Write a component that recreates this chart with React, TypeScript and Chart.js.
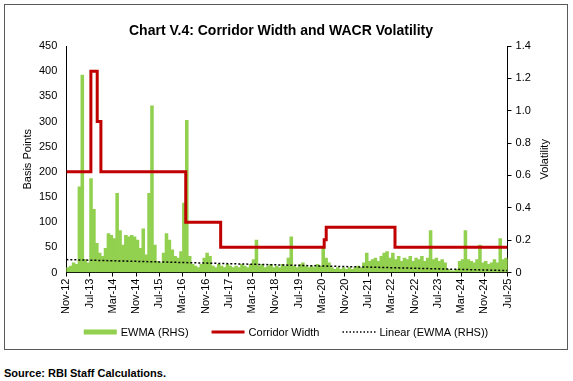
import React, { useEffect, useRef } from 'react';
import { Chart, registerables } from 'chart.js';

Chart.register(...registerables);

// ---- Data ----
const MONTH_NAMES = ['Jan', 'Feb', 'Mar', 'Apr', 'May', 'Jun', 'Jul', 'Aug', 'Sep', 'Oct', 'Nov', 'Dec'];
const START_YEAR = 2012;
const START_MONTH = 10; // November (0-based)
// Monthly categories Nov-12 .. Jul-25
const CATEGORIES: string[] = [];
for (let y = START_YEAR, m = START_MONTH; y < 2025 || (y === 2025 && m <= 6); m++) {
  if (m === 12) { m = 0; y++; }
  CATEGORIES.push(MONTH_NAMES[m] + '-' + String(y).slice(2));
}
const TICK_EVERY = 8; // Nov-12, Jul-13, Mar-14, ...

// WACR volatility (EWMA, monthly), right axis
const EWMA = [
  0.03, 0.04, 0.06, 0.05, 0.53, 1.22, 0.08, 0.06, 0.58, 0.39, 0.18, 0.12, // Nov-12..Oct-13
  0.10, 0.15, 0.24, 0.23, 0.21, 0.49, 0.26, 0.17, 0.23, 0.22, 0.23, 0.22, // Nov-13..Oct-14
  0.20, 0.15, 0.27, 0.11, 0.49, 1.03, 0.17, 0.07, 0.06, 0.12, 0.24, 0.20, // Nov-14..Oct-15
  0.14, 0.10, 0.09, 0.13, 0.43, 0.94, 0.10, 0.05, 0.04, 0.03, 0.05, 0.09, // Nov-15..Oct-16
  0.12, 0.10, 0.04, 0.03, 0.05, 0.04, 0.03, 0.05, 0.04, 0.03, 0.04, 0.03, // Nov-16..Oct-17
  0.05, 0.04, 0.03, 0.05, 0.08, 0.20, 0.04, 0.05, 0.03, 0.04, 0.05, 0.03, // Nov-17..Oct-18
  0.04, 0.03, 0.05, 0.04, 0.09, 0.22, 0.04, 0.03, 0.05, 0.06, 0.04, 0.03, // Nov-18..Oct-19
  0.04, 0.03, 0.05, 0.04, 0.16, 0.09, 0.06, 0.03, 0.02, 0.03, 0.02, 0.03, // Nov-19..Oct-20
  0.02, 0.03, 0.02, 0.03, 0.04, 0.03, 0.06, 0.12, 0.07, 0.08, 0.09, 0.07, // Nov-20..Oct-21
  0.10, 0.12, 0.13, 0.09, 0.12, 0.08, 0.10, 0.07, 0.09, 0.08, 0.10, 0.07, // Nov-21..Oct-22
  0.09, 0.08, 0.10, 0.07, 0.09, 0.26, 0.08, 0.09, 0.07, 0.08, 0.06, 0.02, // Nov-22..Oct-23
  0.01, 0.01, 0.02, 0.07, 0.08, 0.26, 0.08, 0.07, 0.06, 0.08, 0.17, 0.06, // Nov-23..Oct-24
  0.07, 0.05, 0.06, 0.08, 0.06, 0.21, 0.08, 0.09, 0.08,                   // Nov-24..Jul-25
];

// Corridor width (basis points), left axis: date of each change and new width
const CORRIDOR_DATES = [
  '2012-11-01', '2013-07-15', '2013-09-20', '2013-10-29', '2016-04-05',
  '2017-04-06', '2020-03-27', '2020-04-17', '2022-04-08', '2025-07-01',
];
const CORRIDOR_BPS = [200, 400, 300, 200, 100, 50, 65, 90, 50, 50];

// Linear trend of EWMA: value at first and last month
const TREND_START = 0.08;
const TREND_END = 0.012;

const LEFT_TICKS = { min: 0, max: 450, step: 50 };
const RIGHT_TICKS = { min: 0, max: 1.4, step: 0.2 };

const TITLE = 'Chart V.4: Corridor Width and WACR Volatility';
const LEFT_TITLE = 'Basis Points';
const RIGHT_TITLE = 'Volatility';
const FONT = 'Liberation Sans, Arial, sans-serif';
const GREEN = '#92D050';
const RED = '#C00000';

const LEGEND_ITEMS = [
  { text: 'EWMA (RHS)', kind: 'box', color: GREEN },
  { text: 'Corridor Width', kind: 'line', color: RED },
  { text: 'Linear (EWMA (RHS))', kind: 'dots', color: '#000' },
];

// months elapsed since 1 Nov 2012 (fractional)
function monthPos(date: string): number {
  const [y, m, d] = date.split('-').map(Number);
  const days = new Date(y, m, 0).getDate();
  return (y - START_YEAR) * 12 + (m - 1) - START_MONTH + (d - 1) / days;
}

const overlayPlugin = {
  id: 'overlay',
  afterDraw(chart: any) {
    const ctx = chart.ctx;
    const s = chart.scales.y1;
    const sl = chart.scales.y;
    ctx.save();
    // Chart title
    ctx.font = `bold 14px ${FONT}`;
    ctx.fillStyle = '#000';
    ctx.textAlign = 'center';
    ctx.textBaseline = 'middle';
    ctx.fillText(TITLE, chart.width / 2 - 5, 25);

    // Axis titles (both read bottom to top)
    ctx.font = `11px ${FONT}`;
    ctx.save();
    ctx.translate(s.right - 6 - 7, (s.top + s.bottom) / 2);
    ctx.rotate(-Math.PI / 2);
    ctx.fillText(RIGHT_TITLE, 0, 0);
    ctx.restore();
    ctx.save();
    ctx.translate(22, (sl.top + sl.bottom) / 2);
    ctx.rotate(-Math.PI / 2);
    ctx.fillText(LEFT_TITLE, 0, 0);
    ctx.restore();

    // Legend
    const boxW = 33, gapText = 4, gapItem = 23;
    const widths = LEGEND_ITEMS.map((it) => boxW + gapText + ctx.measureText(it.text).width);
    const total = widths.reduce((a, b) => a + b, 0) + gapItem * (LEGEND_ITEMS.length - 1);
    let x = chart.width / 2 - total / 2;
    const y = chart.height - 16;
    ctx.textAlign = 'left';
    LEGEND_ITEMS.forEach((it, i) => {
      if (it.kind === 'box') {
        ctx.fillStyle = it.color;
        ctx.fillRect(x, y - 2.5, boxW, 5);
      } else {
        ctx.strokeStyle = it.color;
        ctx.lineWidth = it.kind === 'line' ? 3 : 1.5;
        ctx.setLineDash(it.kind === 'dots' ? [1.5, 2] : []);
        ctx.beginPath();
        ctx.moveTo(x, y);
        ctx.lineTo(x + boxW, y);
        ctx.stroke();
        ctx.setLineDash([]);
      }
      ctx.fillStyle = '#000';
      ctx.fillText(it.text, x + boxW + gapText, y + 0.5);
      x += widths[i] + gapItem;
    });
    ctx.restore();
  },
};

export default function App() {
  const ref = useRef<HTMLCanvasElement>(null);

  useEffect(() => {
    if (!ref.current) return;
    const last = CATEGORIES.length - 1;
    const ewmaPts = EWMA.map((v, i) => ({ x: i + 0.5, y: v }));
    const corridorPts = CORRIDOR_DATES.map((d, i) => ({ x: monthPos(d), y: CORRIDOR_BPS[i] }));
    const trendPts = [{ x: 0, y: TREND_START }, { x: last, y: TREND_END }];

    const chart = new Chart(ref.current, {
      type: 'bar',
      data: {
        datasets: [
          {
            type: 'bar',
            label: 'EWMA (RHS)',
            data: ewmaPts,
            yAxisID: 'y1',
            backgroundColor: GREEN,
            borderWidth: 0,
            barPercentage: 1,
            categoryPercentage: 1,
            order: 3,
          } as any,
          {
            type: 'line',
            label: 'Corridor Width',
            data: corridorPts,
            yAxisID: 'y',
            borderColor: RED,
            borderWidth: 3,
            stepped: true,
            pointRadius: 0,
            fill: false,
            order: 1,
          } as any,
          {
            type: 'line',
            label: 'Linear (EWMA (RHS))',
            data: trendPts,
            yAxisID: 'y1',
            borderColor: '#000',
            borderWidth: 1.5,
            borderDash: [2, 2],
            pointRadius: 0,
            fill: false,
            order: 2,
          } as any,
        ],
      },
      options: {
        animation: false,
        responsive: false,
        devicePixelRatio: 1,
        layout: { padding: { left: 24, right: 8, top: 40, bottom: 32 } },
        plugins: {
          title: { display: false },
          legend: { display: false },
          tooltip: { enabled: false },
        },
        scales: {
          x: {
            type: 'linear',
            min: 0,
            max: last,
            offset: false,
            grid: { drawOnChartArea: false, drawTicks: true, tickLength: 4, color: '#000', offset: false },
            border: { display: true, color: '#000', width: 1 },
            ticks: {
              stepSize: TICK_EVERY,
              autoSkip: false,
              minRotation: 90,
              maxRotation: 90,
              color: '#000',
              font: { family: FONT, size: 11 },
              padding: 2,
              callback: (v: any) => CATEGORIES[Math.round(Number(v))] ?? '',
            },
          },
          y: {
            position: 'left',
            min: LEFT_TICKS.min,
            max: LEFT_TICKS.max,
            grid: { drawOnChartArea: false, drawTicks: false },
            border: { display: true, color: '#000', width: 1 },
            ticks: {
              stepSize: LEFT_TICKS.step,
              color: '#000',
              font: { family: FONT, size: 11 },
              padding: 9,
            },
          },
          y1: {
            position: 'right',
            min: RIGHT_TICKS.min,
            max: RIGHT_TICKS.max,
            grid: { drawOnChartArea: false, drawTicks: true, tickLength: 4, color: '#000' },
            border: { display: true, color: '#000', width: 1 },
            ticks: {
              stepSize: RIGHT_TICKS.step,
              color: '#000',
              font: { family: FONT, size: 11 },
              padding: 4,
            },
            title: {
              display: true,
              text: RIGHT_TITLE,
              color: 'rgba(0,0,0,0)',
              font: { family: FONT, size: 11 },
              padding: { top: 6, bottom: 4 },
            },
          },
        },
      },
      plugins: [overlayPlugin],
    });
    return () => chart.destroy();
  }, []);

  return (
    <div style={{ position: 'fixed', left: 0, top: 0, width: 573, height: 381, background: '#fff', overflow: 'hidden' }}>
      <div
        style={{
          position: 'absolute', left: 4, top: 4, width: 564, height: 346,
          border: '1.5px solid #595959', boxSizing: 'border-box',
        }}
      />
      <canvas
        ref={ref}
        width={560}
        height={342}
        style={{ position: 'absolute', left: 6, top: 6, width: 560, height: 342 }}
      />
      <div
        style={{
          position: 'absolute', left: 4, top: 367, fontFamily: FONT, fontSize: 11,
          fontWeight: 'bold', color: '#000', whiteSpace: 'nowrap',
        }}
      >
        Source: RBI Staff Calculations.
      </div>
    </div>
  );
}
